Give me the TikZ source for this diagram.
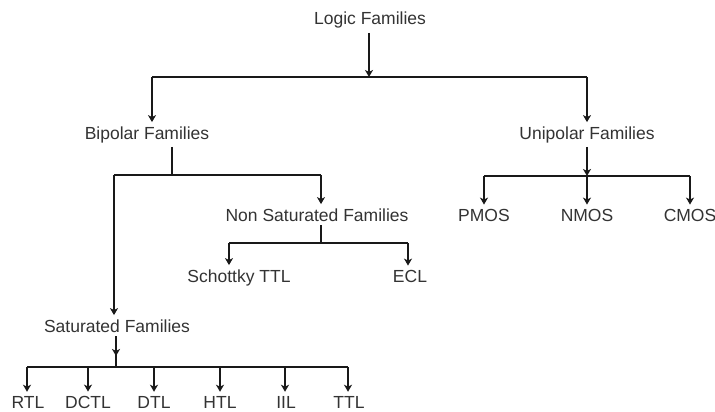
\documentclass[tikz,border=0pt]{standalone}
\usepackage{fontspec}
\setmainfont{Liberation Sans}
\usetikzlibrary{arrows.meta}
\begin{document}
\begin{tikzpicture}[x=1pt,y=-1pt,
  lbl/.style={anchor=base,inner sep=4pt,text=black!80,font=\fontsize{17.5}{20}\selectfont},
  conn/.style={line width=1.5pt,draw=black!90},
  arr/.style={conn,-{Stealth[length=7pt,width=8pt,inset=2pt]}}]
\useasboundingbox[fill=white] (0,0) rectangle (715,412);
% nodes
\node[lbl] (logic) at (370,25) {Logic Families};
\node[lbl] (bip) at (147,139) {Bipolar Families};
\node[lbl] (uni) at (587,139) {Unipolar Families};
\node[lbl] (nonsat) at (317,221) {Non Saturated Families};
\node[lbl] (schottky) at (239,282) {Schottky TTL};
\node[lbl] (ecl) at (410,282) {ECL};
\node[lbl] (sat) at (117,332) {Saturated Families};
\node[lbl] (pmos) at (484,221) {PMOS};
\node[lbl] (nmos) at (587,221) {NMOS};
\node[lbl] (cmos) at (690,221) {CMOS};
\node[lbl] (rtl) at (28,408) {RTL};
\node[lbl] (dctl) at (88,408) {DCTL};
\node[lbl] (dtl) at (154,408) {DTL};
\node[lbl] (htl) at (220,408) {HTL};
\node[lbl] (iil) at (286,408) {IIL};
\node[lbl] (ttl) at (349,408) {TTL};
% junctions
\coordinate (j0) at (369,77);
\coordinate (jB) at (152,77);
\coordinate (jU) at (587,77);
\coordinate (bo) at (172,175);
\coordinate (bL) at (114,175);
\coordinate (bR) at (321,175);
\coordinate (no) at (321,243);
\coordinate (nL) at (229,243);
\coordinate (nR) at (408,243);
\coordinate (uo) at (587,176);
\coordinate (uL) at (484,176);
\coordinate (uR) at (690,176);
\coordinate (sm) at (116,356);
\coordinate (sj) at (116,367);
\coordinate (b1) at (27,367);
\coordinate (b2) at (88,367);
\coordinate (b3) at (154,367);
\coordinate (b4) at (220,367);
\coordinate (b5) at (285,367);
\coordinate (b6) at (348,367);
% connectors
\draw[arr] (logic.south -| j0) -- (j0);
\draw[conn] (jB) -- (jU);
\draw[arr] (jB) -- (jB |- bip.north);
\draw[arr] (jU) -- (jU |- uni.north);
\draw[conn] (bip.south -| bo) -- (bo);
\draw[conn] (bL) -- (bR);
\draw[arr] (bR) -- (bR |- nonsat.north);
\draw[arr] (bL) -- (bL |- sat.north);
\draw[conn] (nonsat.south -| no) -- (no);
\draw[conn] (nL) -- (nR);
\draw[arr] (nL) -- (nL |- schottky.north);
\draw[arr] (nR) -- (nR |- ecl.north);
\draw[arr] (uni.south -| uo) -- (uo);
\draw[conn] (uL) -- (uR);
\draw[arr] (uL) -- (uL |- pmos.north);
\draw[arr] (uo) -- (uo |- nmos.north);
\draw[arr] (uR) -- (uR |- cmos.north);
\draw[arr] (sat.south -| sm) -- (sm);
\draw[conn] ([yshift=3pt]sm) -- (sj);
\draw[conn] (b1) -- (b6);
\draw[arr] (b1) -- (b1 |- rtl.north);
\draw[arr] (b2) -- (b2 |- dctl.north);
\draw[arr] (b3) -- (b3 |- dtl.north);
\draw[arr] (b4) -- (b4 |- htl.north);
\draw[arr] (b5) -- (b5 |- iil.north);
\draw[arr] (b6) -- (b6 |- ttl.north);
\end{tikzpicture}
\end{document}
